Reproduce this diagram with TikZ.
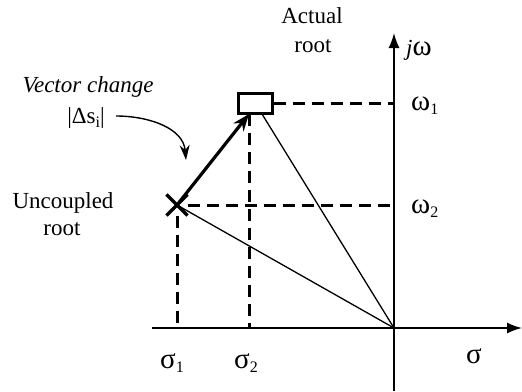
\documentclass[tikz,border=0pt]{standalone}
\usepackage{fontspec}
\setmainfont{Liberation Serif}
\usepackage{tikz}
\usetikzlibrary{arrows.meta,shapes.misc,calc}
\tikzset{
  lbl/.style   ={inner sep=0pt,anchor=base,font=\fontsize{23}{28}\selectfont},
  axisln/.style={line width=1.5pt,-{Latex[length=15pt,width=11pt]}},
  thinln/.style={line width=1.3pt},
  dashln/.style={line width=3pt,dash pattern=on 12pt off 7pt},
  vec/.style   ={line width=3.2pt,-{Stealth[length=17pt,width=13pt]}},
  curvar/.style={line width=1.4pt,-{Stealth[length=15pt,width=10pt]}},
  uncr/.style  ={cross out,draw,line width=3.2pt,minimum size=18pt,inner sep=0pt},
  actr/.style  ={rectangle,draw,line width=3pt,minimum width=34pt,minimum height=20pt,inner sep=0pt},
}
\newcommand{\sbs}[1]{\raisebox{-0.45ex}{\fontsize{16}{16}\selectfont #1}}
\newcommand{\gk}[1]{{\fontsize{29}{29}\selectfont #1}}
\begin{document}
\begin{tikzpicture}[x=1pt,y=-1pt]
  \useasboundingbox (0,0) rectangle (522,391);
  % axes
  \coordinate (o)  at (394,328);
  \coordinate (xl) at (152,328);
  \coordinate (xr) at (522,328);
  \coordinate (yb) at (394,391);
  \coordinate (yt) at (394,33);
  \draw[line width=1.5pt] (xl) -- (o);
  \draw[axisln] (o) -- (xr);
  \draw[axisln] (yb) -- (yt);
  % roots
  \node[uncr] (unc) at (177,205){};
  \node[actr] (act) at (255,103){};
  \coordinate (a2) at (249,114);   % foot of the vector
  \coordinate (a3) at (262,114);   % start of the thin ray
  % projections
  \draw[dashln] (unc.south) -- (unc |- o);
  \draw[dashln] (unc.east) -- (unc -| o);
  \draw[dashln] (a2) -- (a2 |- o);
  \draw[dashln] (act.east) -- (act -| o);
  % rays to origin
  \draw[thinln] (unc.center) -- (o);
  \draw[thinln] (a3) -- (o);
  % vector change
  \draw[vec,shorten <=3pt] (unc.center) -- (a2);
  \coordinate (cs) at (116,116);
  \coordinate (ce) at (186,160);
  \draw[curvar] (cs) to[out=0,in=95] (ce);
  % labels
  \node[lbl,font=\fontsize{23}{28}\selectfont\itshape] (vc) at (88,92){Vector change};
  \node[lbl] (ds) at (86,123){|Δs\sbs{i}|};
  \node[lbl] (u1) at (63,208){Uncoupled};
  \node[lbl] (u2) at (62,235){root};
  \node[lbl] (r1) at (312,23){Actual};
  \node[lbl] (r2) at (313,52){root};
  \node[lbl,anchor=base west] (jw) at (406,55){\textit{j}\gk{ω}};
  \node[lbl,anchor=base west] (w1) at (411,110){\gk{ω}\sbs{1}};
  \node[lbl,anchor=base west] (w2) at (411,213){\gk{ω}\sbs{2}};
  \node[lbl] (s1) at (172,368){\gk{σ}\sbs{1}};
  \node[lbl] (s2) at (246,368){\gk{σ}\sbs{2}};
  \node[lbl] (s) at (474,363){\gk{σ}};
\end{tikzpicture}
\end{document}
